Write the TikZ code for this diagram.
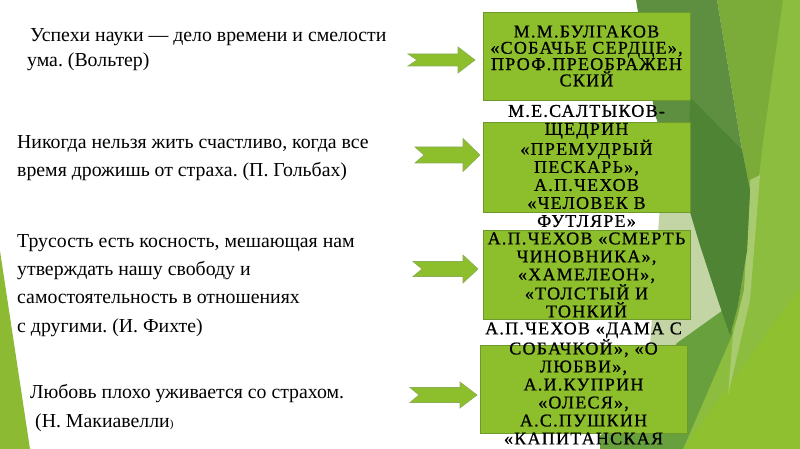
\documentclass[tikz,border=0pt]{standalone}
\usepackage{fontspec}
\setmainfont{Liberation Serif}
\newfontfamily\bxfont[LetterSpace=7,FakeBold=0.8]{Liberation Serif}
\definecolor{boxg}{HTML}{8DBE2B}
\definecolor{boxb}{HTML}{6E9A2C}
\definecolor{darkg}{HTML}{5E8F40}
\definecolor{lensg}{HTML}{4F8434}
\definecolor{midg}{HTML}{7BAC3A}
\definecolor{lightg}{HTML}{8DBD3E}
\definecolor{yelg}{HTML}{8EC030}
\definecolor{grayg}{HTML}{C3D5A5}
\definecolor{bandg}{HTML}{67A03D}
\definecolor{paleg}{HTML}{A9CB70}
\definecolor{wedgeg}{HTML}{8CBA32}
\newcommand\blockarrow[6]{%
  \draw[arrowst] (#1,#4-#5) -- (#2,#4-#5) -- (#2,#4-#6) -- (#3,#4) -- (#2,#4+#6) -- (#2,#4+#5) -- (#1,#4+#5) -- (#1+9,#4) -- cycle;}
\frenchspacing
\begin{document}
\begin{tikzpicture}[x=1pt,y=-1pt,
  box/.style={draw=boxb,fill=boxg,line width=0.8pt,inner sep=0pt,minimum width=207pt},
  btext/.style={align=center,inner sep=0pt,text=black,font=\bxfont\fontsize{18}{18}\selectfont},
  ltext/.style={anchor=base west,inner sep=0pt,text=black,font=\fontsize{19.8}{22}\selectfont},
  arrowst/.style={fill=boxg,draw=boxb!80,line width=0.6pt,line join=miter}]
\useasboundingbox (0,0) rectangle (800,449);
\fill[white] (0,0) rectangle (800,449);
% background facets
\fill[grayg] (660,205) -- (692,205) -- (725,320) -- (700,345) -- (650,345) -- cycle;
\fill[midg] (717,0) -- (800,0) -- (800,449) -- (683,449) -- (738,305) -- (747,250) -- (750,190) -- (742,150) -- cycle;
\fill[lightg] (783,0) -- (800,0) -- (800,449) -- (683,449) -- (745,300) -- (762,150) -- cycle;
\fill[yelg] (683,449) -- (800,288) -- (800,449) -- cycle;
\fill[paleg] (750,180) -- (760,175) -- (750,300) -- (728,395) -- (733,335) -- (744,290) -- cycle;
\fill[bandg] (677,343) -- (726,308) -- (733,333) -- (683,449) -- (600,449) -- (600,436) -- (650,380) -- cycle;
\fill[darkg] (636,0) -- (717,0) -- (742,150) -- (750,190) -- (747,250) -- (738,305) -- (730,335) -- (718,300) -- (700,245) -- (688,205) -- (655,115) -- cycle;
\fill[lensg] (690,97) -- (742,150) -- (750,190) -- (747,250) -- (738,305) -- (730,335) -- (718,300) -- (700,245) -- (688,205) -- cycle;
\fill[wedgeg] (0,251) -- (30,449) -- (0,449) -- cycle;
% boxes
\node[box,minimum height=88pt] (b1) at (586.5,56) {};
\node[box,minimum height=90pt] (b2) at (586.5,167) {};
\node[box,minimum height=89pt] (b3) at (586.5,274.5) {};
\node[box,minimum height=88pt] (b4) at (583.5,389) {};
\node[btext,font=\bxfont\fontsize{18}{16.3}\selectfont] (t1) at (b1.center) {М.М.БУЛГАКОВ\\«СОБАЧЬЕ СЕРДЦЕ»,\\ПРОФ.ПРЕОБРАЖЕН\\СКИЙ};
\node[btext] (t2) at (586.5,166) {М.Е.САЛТЫКОВ-\\ЩЕДРИН\\«ПРЕМУДРЫЙ\\ПЕСКАРЬ»,\\А.П.ЧЕХОВ\\«ЧЕЛОВЕК В\\ФУТЛЯРЕ»};
\node[btext] (t3) at (586.5,275) {А.П.ЧЕХОВ «СМЕРТЬ\\ЧИНОВНИКА»,\\«ХАМЕЛЕОН»,\\«ТОЛСТЫЙ И\\ТОНКИЙ};
\node[btext] (t4) at (583.5,383.5) {А.П.ЧЕХОВ «ДАМА С\\СОБАЧКОЙ», «О\\ЛЮБВИ»,\\А.И.КУПРИН\\«ОЛЕСЯ»,\\А.С.ПУШКИН\\«КАПИТАНСКАЯ};
% left texts
\node[ltext] (q1a) at (30,42) {Успехи науки — дело времени и смелости};
\node[ltext] (q1b) at (27,67) {ума. (Вольтер)};
\node[ltext] (q2a) at (17,149) {Никогда нельзя жить счастливо, когда все};
\node[ltext] (q2b) at (17,177) {время дрожишь от страха. (П. Гольбах)};
\node[ltext] (q3a) at (17,247) {Трусость есть косность, мешающая нам};
\node[ltext] (q3b) at (17,275) {утверждать нашу свободу и};
\node[ltext] (q3c) at (17,303) {самостоятельность в отношениях};
\node[ltext] (q3d) at (17,332) {с другими. (И. Фихте)};
\node[ltext] (q4a) at (30,398) {Любовь плохо уживается со страхом.};
\node[ltext] (q4b) at (35,427) {(Н. Макиавелли{\fontsize{11}{11}\selectfont )}};
% arrows
\blockarrow{408}{458}{475}{60}{6}{13}
\blockarrow{415}{463}{480}{155}{8}{16.5}
\blockarrow{413}{463}{478}{269}{7.5}{14}
\blockarrow{410}{460}{477}{395}{7.5}{13}
\end{tikzpicture}
\end{document}
